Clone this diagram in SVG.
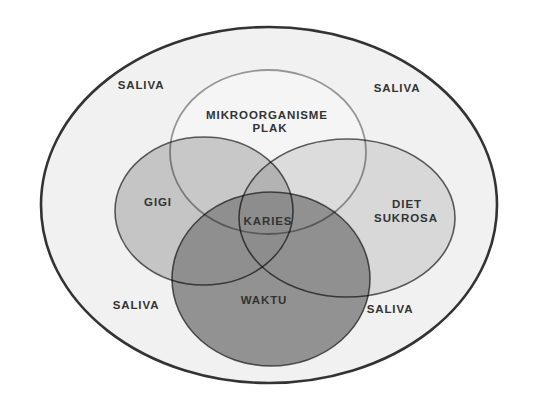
<svg xmlns="http://www.w3.org/2000/svg" width="536" height="408" viewBox="0 0 536 408">
  <style>
    .lbl { font-family: "Liberation Sans", Arial, sans-serif; font-weight: bold; font-size: 11.5px; letter-spacing: 0.9px; fill: #333; text-anchor: middle; }
    .edge { fill: none; stroke: #000; stroke-width: 1.6; stroke-opacity: 0.62; }
  </style>
  <rect width="536" height="408" fill="#ffffff"/>
  <g id="saliva">
    <ellipse cx="269" cy="205" rx="228" ry="178" fill="#f1f1f1" stroke="#333" stroke-width="2.6"/>
    <text class="lbl" x="141" y="89">SALIVA</text>
    <text class="lbl" x="397" y="92">SALIVA</text>
    <text class="lbl" x="136" y="309">SALIVA</text>
    <text class="lbl" x="390" y="313">SALIVA</text>
  </g>
  <g id="mikroorganisme">
    <ellipse cx="268" cy="152" rx="98" ry="82" fill="#f5f5f5"/>
  </g>
  <g id="gigi">
    <ellipse cx="204" cy="211" rx="89" ry="74" fill="#000" fill-opacity="0.18"/>
  </g>
  <g id="diet">
    <ellipse cx="347" cy="218" rx="108" ry="79" fill="#000" fill-opacity="0.1"/>
  </g>
  <g id="waktu">
    <ellipse cx="271" cy="279" rx="99" ry="87" fill="#8a8a8a" fill-opacity="0.92"/>
  </g>
  <g id="outlines">
    <ellipse cx="268" cy="152" rx="98" ry="82" fill="none" stroke="#000" stroke-opacity="0.38" stroke-width="1.8"/>
    <ellipse class="edge" cx="204" cy="211" rx="89" ry="74"/>
    <ellipse class="edge" cx="347" cy="218" rx="108" ry="79"/>
    <ellipse class="edge" cx="271" cy="279" rx="99" ry="87"/>
  </g>
  <g id="labels">
    <text class="lbl" x="267" y="119">MIKROORGANISME</text>
    <text class="lbl" x="270" y="132">PLAK</text>
    <text class="lbl" x="158" y="206">GIGI</text>
    <text class="lbl" x="407" y="208">DIET</text>
    <text class="lbl" x="406" y="222">SUKROSA</text>
    <text class="lbl" x="268" y="225">KARIES</text>
    <text class="lbl" x="264" y="304">WAKTU</text>
  </g>
</svg>
